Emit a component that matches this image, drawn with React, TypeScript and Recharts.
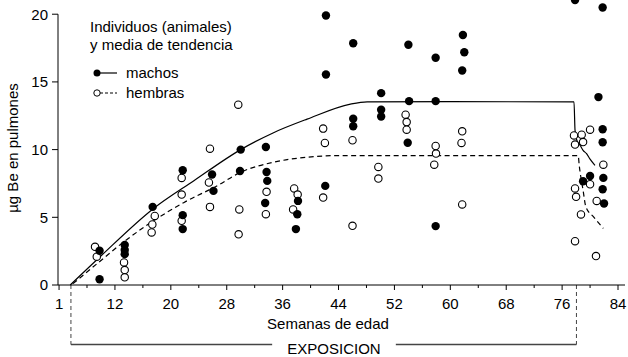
import React from 'react';
import { ComposedChart, Scatter, Line, XAxis, YAxis, ReferenceLine, Legend } from 'recharts';

const FONT = '"Liberation Sans", Arial, sans-serif';

// eje x: semanas; el primer rotulo "1" esta en la posicion de la semana 4
const majorTicks = [4, 12, 20, 28, 36, 44, 52, 60, 68, 76, 84];
const majorLabels = ['1', '12', '20', '28', '36', '44', '52', '60', '68', '76', '84'];
const minorTicks = [8, 16, 24, 32, 40, 48, 56, 64, 72, 80];
const yTicks = [0, 5, 10, 15, 20];

// [semana, µg Be]
const machos: [number, number][] = [
  [9.8, 2.53], [9.8, 0.42], [13.4, 2.95], [13.4, 2.58], [13.4, 2.28],
  [17.4, 5.77], [21.7, 8.47], [21.7, 5.16], [21.7, 4.13], [25.9, 8.16],
  [26.1, 6.95], [30.0, 10.0], [29.9, 8.42], [33.6, 10.19], [33.7, 8.35],
  [33.8, 7.69], [33.5, 6.06], [38.2, 6.21], [38.1, 5.23], [37.9, 4.13],
  [42.1, 7.32], [42.2, 19.9], [42.2, 15.55], [46.1, 17.86], [46.1, 12.28],
  [46.1, 11.72], [50.1, 14.17], [50.1, 12.95], [50.1, 12.45], [54.0, 17.74],
  [54.1, 13.58], [53.9, 10.51], [57.9, 16.78], [57.9, 13.58], [57.9, 4.35],
  [61.8, 18.47], [62.0, 17.19], [61.7, 15.84], [77.85, 21.05], [81.8, 20.5],
  [81.2, 13.88], [81.8, 11.5], [81.8, 10.54], [80.0, 8.05], [79.0, 7.66],
  [81.9, 7.91], [81.8, 7.07], [82.0, 6.02],
];

const hembras: [number, number][] = [
  [9.15, 2.82], [9.4, 2.09], [13.3, 1.67], [13.4, 1.1], [13.4, 0.57],
  [17.7, 5.1], [17.35, 4.47], [17.25, 3.88], [21.55, 6.68], [21.55, 4.74],
  [21.55, 7.91], [25.6, 10.07], [25.45, 7.57], [25.6, 5.77], [29.65, 13.32],
  [29.8, 5.58], [29.7, 3.74], [33.7, 6.88], [33.6, 5.23], [37.65, 7.13],
  [38.15, 6.68], [37.5, 5.58], [41.8, 11.55], [42.05, 10.49], [41.8, 6.46],
  [46.0, 10.69], [46.0, 4.37], [49.7, 8.72], [49.7, 7.86], [53.6, 12.58],
  [53.75, 12.03], [53.75, 11.47], [57.9, 10.27], [57.95, 9.71], [57.7, 8.89],
  [61.7, 11.35], [61.6, 10.49], [61.7, 5.95], [77.7, 11.05], [78.8, 11.1],
  [80.0, 11.47], [77.85, 10.37], [79.0, 10.56], [81.9, 8.89], [80.0, 7.44],
  [80.95, 6.21], [77.85, 7.13], [78.0, 6.51], [78.7, 5.21], [77.85, 3.24],
  [80.85, 2.14],
];

// medias de tendencia
const machosTrend: [number, number][] = [
  [5.6, 0], [9.8, 2.05], [17.4, 5.6], [23.3, 7.7], [30, 10.0],
  [34.7, 11.25], [39.5, 12.25], [45.7, 13.36], [48.1, 13.53], [60, 13.55],
  [77.7, 13.52], [77.85, 11.42], [78.1, 10.7], [78.6, 10.3], [79.0, 9.95],
  [79.5, 9.7], [80.0, 9.3], [80.7, 8.84],
];

const hembrasTrend: [number, number][] = [
  [6.0, 0.1], [9.5, 1.6], [13.3, 3.2], [17.1, 4.6], [21.9, 6.1], [26.7, 7.35],
  [30, 8.33], [34.7, 9.07], [39.5, 9.44], [44.3, 9.56], [60, 9.56],
  [78.3, 9.56], [78.45, 8.84], [79.0, 7.0], [79.4, 5.77], [80.5, 5.03],
  [81.9, 4.18],
];

// periodo de exposicion (semanas)
const exposureStart = 5.7;
const exposureEnd = 78.05;

const toPts = (arr: [number, number][]) => arr.map(([x, y]) => ({ x, y }));

const allTicks = [...majorTicks, ...minorTicks].sort((a, b) => a - b);

const WeekTick = (props: any) => {
  const { x, y, payload } = props;
  const idx = majorTicks.indexOf(payload.value);
  const major = idx >= 0;
  return (
    <g>
      <line x1={x} x2={x} y1={y} y2={y + (major ? 5 : 3)} stroke="#000" />
      {major && (
        <text x={x} y={y + 24} textAnchor="middle" fontSize={15} fontFamily={FONT} fill="#000">
          {majorLabels[idx]}
        </text>
      )}
    </g>
  );
};

const FilledDot = (p: any) => <circle cx={p.cx} cy={p.cy} r={4.2} fill="#000" />;
const OpenDot = (p: any) => (
  <circle cx={p.cx} cy={p.cy} r={3.7} fill="#fff" stroke="#000" strokeWidth={1.1} />
);

const LegendBox = () => (
  <div style={{ fontFamily: FONT, fontSize: 15, lineHeight: '18px', color: '#000', whiteSpace: 'nowrap' }}>
    <div>Individuos (animales)</div>
    <div>y media de tendencia</div>
    <div style={{ display: 'flex', alignItems: 'center', height: 20, marginTop: 9 }}>
      <svg width={36} height={20}>
        <line x1={7} y1={10} x2={27} y2={10} stroke="#000" strokeWidth={1.2} />
        <circle cx={7} cy={10} r={3.5} fill="#000" />
      </svg>
      <span>machos</span>
    </div>
    <div style={{ display: 'flex', alignItems: 'center', height: 20 }}>
      <svg width={36} height={20}>
        <line x1={10} y1={10} x2={27} y2={10} stroke="#000" strokeWidth={1.1} strokeDasharray="3 2" />
        <circle cx={7} cy={10} r={3.2} fill="#fff" stroke="#000" />
      </svg>
      <span>hembras</span>
    </div>
  </div>
);

const bracket = { stroke: '#444', strokeWidth: 1.4 };

const App: React.FC = () => {
  return (
    <div style={{ position: 'absolute', left: 0, top: 0, width: 628, height: 357, background: '#fff' }}>
      <ComposedChart width={628} height={357} margin={{ top: 0, right: 3, bottom: 0, left: 0 }}>
        <XAxis
          type="number"
          dataKey="x"
          domain={[3.85, 85]}
          ticks={allTicks}
          interval={0}
          height={72}
          tickSize={0}
          tickMargin={0}
          tickLine={false}
          tick={<WeekTick />}
          axisLine={{ stroke: '#000' }}
        />
        <YAxis
          type="number"
          dataKey="y"
          domain={[0, 21]}
          ticks={yTicks}
          interval={0}
          width={58}
          tickSize={6}
          tickMargin={4}
          axisLine={false}
          tickLine={{ stroke: '#000' }}
          tick={{ fontSize: 15, fontFamily: FONT, fill: '#000' }}
        />
        <ReferenceLine segment={[{ x: 3.85, y: 0 }, { x: 3.85, y: 20 }]} stroke="#000" ifOverflow="visible" />
        <ReferenceLine
          segment={[{ x: exposureStart, y: 0 }, { x: exposureStart, y: -4.4 }]}
          {...bracket}
          strokeWidth={1}
          strokeDasharray="4 3"
          ifOverflow="visible"
        />
        <ReferenceLine
          segment={[{ x: exposureEnd, y: 0 }, { x: exposureEnd, y: -4.4 }]}
          {...bracket}
          strokeWidth={1}
          strokeDasharray="4 3"
          ifOverflow="visible"
        />
        <ReferenceLine segment={[{ x: exposureStart, y: -4.4 }, { x: 34.5, y: -4.4 }]} {...bracket} ifOverflow="visible" />
        <ReferenceLine segment={[{ x: 52.2, y: -4.4 }, { x: exposureEnd, y: -4.4 }]} {...bracket} ifOverflow="visible" />
        <Line
          data={toPts(machosTrend)}
          dataKey="y"
          type="monotone"
          stroke="#000"
          strokeWidth={1.2}
          dot={false}
          isAnimationActive={false}
        />
        <Line
          data={toPts(hembrasTrend)}
          dataKey="y"
          type="monotone"
          stroke="#000"
          strokeWidth={1.2}
          strokeDasharray="5 3.5"
          dot={false}
          isAnimationActive={false}
        />
        <Scatter data={toPts(hembras)} shape={OpenDot} isAnimationActive={false} />
        <Scatter data={toPts(machos)} shape={FilledDot} isAnimationActive={false} />
        <Legend
          content={<LegendBox />}
          layout="vertical"
          align="center"
          verticalAlign="middle"
          wrapperStyle={{ left: 90, top: 18, width: 'auto' }}
        />
      </ComposedChart>
      <svg width={628} height={357} style={{ position: 'absolute', left: 0, top: 0, pointerEvents: 'none' }}>
        <g fontFamily={FONT} fontSize={15} fill="#000">
          <text x={328} y={328.5} textAnchor="middle">Semanas de edad</text>
          <text x={334} y={354} textAnchor="middle">EXPOSICION</text>
          <text transform="translate(18,148) rotate(-90)" textAnchor="middle">µg Be en pulmones</text>
        </g>
      </svg>
    </div>
  );
};

export default App;
